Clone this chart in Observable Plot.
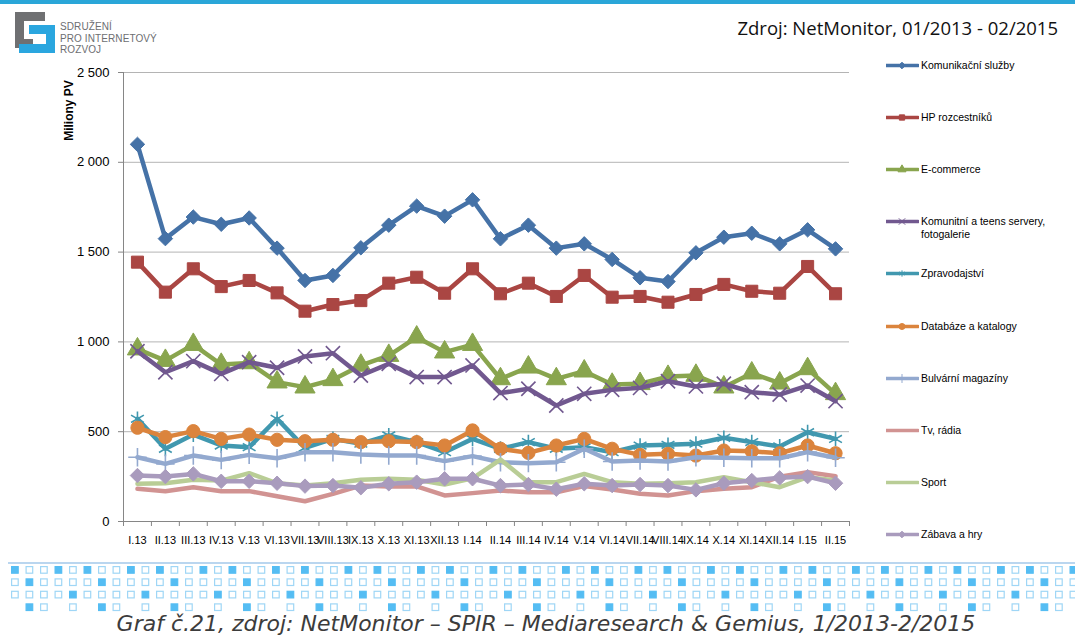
<!DOCTYPE html>
<html><head><meta charset="utf-8">
<script src="https://cdn.jsdelivr.net/npm/d3@7"></script>
<script src="https://cdn.jsdelivr.net/npm/@observablehq/plot@0.6"></script>
<style>
body{margin:0;background:#fff;}
#page{position:relative;width:1075px;height:636px;overflow:hidden;background:#fff;font-family:"Liberation Sans",Arial,sans-serif;}
#topbar{position:absolute;left:0;top:0;width:1075px;height:4px;background:#2aa6d8;}
#logo{position:absolute;left:0;top:0;}
#logotext{position:absolute;left:60px;top:21px;font-size:10px;line-height:11.5px;color:#6d6e71;letter-spacing:0.1px;}
#source{position:absolute;right:17px;top:15px;font-family:"Open Sans",sans-serif;font-size:18.5px;line-height:26px;color:#111;white-space:nowrap;}
#chart{position:absolute;left:0;top:0;}
#legend{position:absolute;left:0;top:0;width:1075px;}
.li{position:absolute;left:886px;display:flex;align-items:flex-start;font-size:10.5px;color:#000;line-height:13px;white-space:nowrap;}
.li svg{flex:none;}
.li span{margin-left:2px;}
#deco{position:absolute;left:0;top:0;}
#caption{position:absolute;left:0;width:1092px;top:613px;text-align:center;font-family:"DejaVu Sans",Verdana,sans-serif;font-style:italic;font-size:22px;line-height:22px;color:#3c3c3c;white-space:nowrap;}
</style></head><body>
<div id="page">
  <div id="topbar"></div>
  <svg id="logo" width="60" height="60">
    <path d="M15,12 H45 V21 H24 V39 H33 V48 H15 Z" fill="#6f7072"/>
    <path d="M29,25 H55 V53 H19 V44 H46 V34 H29 Z" fill="#2aa6df"/>
  </svg>
  <div id="logotext">SDRUŽENÍ<br>PRO INTERNETOVÝ<br>ROZVOJ</div>
  <div id="source">Zdroj: NetMonitor, 01/2013 - 02/2015</div>
  <div id="chart"></div>
  <div id="legend"></div>
  <svg id="deco" width="1075" height="636"></svg>
  <div id="caption">Graf č.21, zdroj: NetMonitor – SPIR – Mediaresearch &amp; Gemius, 1/2013-2/2015</div>
</div>
<script>
const months = ["I.13","II.13","III.13","IV.13","V.13","VI.13","VII.13","VIII.13","IX.13","X.13","XI.13","XII.13","I.14","II.14","III.14","IV.14","V.14","VI.14","VII.14","VIII.14","IX.14","X.14","XI.14","XII.14","I.15","II.15"];
const seriesNames = ["Komunikační služby","HP rozcestníků","E-commerce","Komunitní a teens servery, fotogalerie","Zpravodajství","Databáze a katalogy","Bulvární magazíny","Tv, rádia","Sport","Zábava a hry"];
const legendLabels = ["Komunikační služby","HP rozcestníků","E-commerce","Komunitní a teens servery,<br>fotogalerie","Zpravodajství","Databáze a katalogy","Bulvární magazíny","Tv, rádia","Sport","Zábava a hry"];
const komunikacni = [2100,1575,1695,1655,1690,1522,1342,1370,1524,1650,1756,1700,1791,1574,1650,1522,1546,1459,1357,1336,1496,1583,1605,1546,1624,1518];
const hpRozcestniku = [1444,1277,1407,1308,1342,1273,1171,1208,1230,1327,1360,1271,1407,1268,1327,1253,1370,1249,1253,1221,1264,1320,1282,1271,1420,1268];
const ecommerce = [960,896,985,874,883,776,748,789,869,924,1026,943,985,794,859,794,837,763,767,807,813,748,826,770,850,711];
const komunitni = [948,831,893,822,887,856,919,937,813,878,804,804,869,715,739,646,711,733,744,781,752,767,720,707,757,670];
const zpravodajstvi = [572,405,484,423,414,572,410,460,433,479,442,386,460,405,442,405,414,386,423,427,433,466,442,418,497,460];
const databaze = [522,470,503,460,484,455,447,455,442,447,442,423,507,405,382,423,460,405,371,377,367,395,391,380,423,380];
const bulvarni = [358,321,367,343,371,352,386,386,373,367,367,336,364,330,325,330,405,334,340,334,358,355,352,352,386,355];
const tvRadia = [182,169,191,169,169,141,113,154,200,195,195,145,158,172,163,163,197,178,154,145,169,182,191,250,275,252];
const sport = [210,213,232,228,269,213,200,213,232,238,232,206,240,345,219,219,265,219,210,213,219,247,219,191,247,228];
const zabava = [256,250,265,224,224,213,197,200,188,210,219,238,238,200,206,180,210,200,206,200,176,213,228,243,250,213];
const yTicks = [0,500,1000,1500,2000,2500];

const seriesValues = [komunikacni,hpRozcestniku,ecommerce,komunitni,zpravodajstvi,databaze,bulvarni,tvRadia,sport,zabava];
const seriesColors = ["#4572A7","#AA4643","#89A54E","#71588F","#4198AF","#DB843D","#93A9CF","#D19392","#B9CD96","#A99BBD"];
const seriesSymbols = ["diamond2","square","triangle","times","asterisk","circle","plus",null,null,"diamond2"];
const symbolR = {diamond2:6.5, square:6.8, triangle:7.5, times:6.5, asterisk:7, circle:6.6, plus:6};
const filledSymbols = new Set(["diamond2","square","triangle","circle"]);

const rows = seriesNames.flatMap((name, s) => seriesValues[s].map((v, i) => ({series: name, s, i, value: v})));

const marks = [
  Plot.gridY(yTicks, {stroke: "#b4b4b4", strokeOpacity: 1}),
  Plot.axisY(yTicks, {tickSize: 5, tickPadding: 9, stroke: "#868686", fill: "#000", fontSize: 13, label: null,
    tickFormat: d => d3.format(",")(d).replace(/,/g, "\u00a0")}),
  Plot.axisX(d3.range(months.length + 1).map(i => i - 0.5), {tickSize: 5, stroke: "#868686", tickFormat: () => "", label: null}),
  Plot.axisX(d3.range(months.length), {tickSize: 0, tickPadding: 15, fill: "#000", fontSize: 11, label: null, tickFormat: i => months[i]}),
  Plot.ruleX([-0.5], {stroke: "#868686"}),
  Plot.ruleY([0], {stroke: "#868686"}),
  Plot.text(["Miliony PV"], {frameAnchor: "top-left", textAnchor: "middle", dx: -59, dy: 38, rotate: -90, fontWeight: "bold", fontSize: 12, fill: "#000"})
];
seriesNames.forEach((name, s) => {
  const data = rows.filter(r => r.s === s);
  marks.push(Plot.line(data, {x: "i", y: "value", stroke: seriesColors[s], strokeWidth: 4.5, strokeLinejoin: "round", strokeLinecap: "round"}));
  const sym = seriesSymbols[s];
  if (sym) {
    const filled = filledSymbols.has(sym);
    marks.push(Plot.dot(data, {x: "i", y: "value", symbol: () => sym, r: symbolR[sym],
      fill: filled ? seriesColors[s] : "none", stroke: seriesColors[s], strokeWidth: filled ? 1 : 1.6}));
  }
});

const chart = Plot.plot({
  width: 1075, height: 560,
  marginTop: 72, marginBottom: 39, marginLeft: 123, marginRight: 226,
  x: {type: "linear", domain: [-0.5, months.length - 0.5]},
  y: {domain: [0, 2500]},
  style: {fontFamily: "Liberation Sans, Arial, sans-serif", background: "transparent", color: "#000"},
  marks
});
document.getElementById("chart").appendChild(chart);

// Legend
const symMap = {diamond2: d3.symbolDiamond2, square: d3.symbolSquare, triangle: d3.symbolTriangle, times: d3.symbolTimes, asterisk: d3.symbolAsterisk, circle: d3.symbolCircle, plus: d3.symbolPlus};
const legend = d3.select("#legend");
seriesNames.forEach((name, s) => {
  const cy = 65 + 52.2 * s;
  const item = legend.append("div").attr("class", "li").style("top", (cy - 6.5) + "px");
  const svg = item.append("svg").attr("width", 33).attr("height", 13);
  svg.append("line").attr("x1", 0).attr("x2", 32).attr("y1", 6.5).attr("y2", 6.5)
    .attr("stroke", seriesColors[s]).attr("stroke-width", 3.5).attr("stroke-linecap", "round");
  const sym = seriesSymbols[s];
  if (sym) {
    const filled = filledSymbols.has(sym);
    svg.append("path").attr("transform", "translate(16,6.5)")
      .attr("d", d3.symbol(symMap[sym], 28)())
      .attr("fill", filled ? seriesColors[s] : "none").attr("stroke", seriesColors[s]).attr("stroke-width", 1);
  }
  item.append("span").html(legendLabels[s]);
});

// Bottom decoration
const deco = d3.select("#deco");
deco.append("line").attr("x1", 8).attr("x2", 1075).attr("y1", 563).attr("y2", 563).attr("stroke", "#a3c9ea").attr("stroke-width", 1.5);
const rowTops = [566, 578.3, 590.7, 603.3];
const step = 14.5, sz = 7.8, x0 = 11;
for (let r = 0; r < 4; r++) {
  for (let k = 0; x0 + k * step < 1075; k++) {
    const m = k % 5;
    let kind = "o";
    if (r === 0) kind = (m === 0 || m === 3) ? "f" : "o";
    else if (r === 1) kind = m === 1 ? "f" : "o";
    else if (r === 2) kind = m === 4 ? "f" : "o";
    else kind = m === 1 ? "f" : (m === 2 || m === 4) ? "o" : null;
    if (!kind) continue;
    deco.append("rect").attr("x", x0 + k * step + 0.6).attr("y", rowTops[r] + 0.6).attr("width", sz - 1.2).attr("height", sz - 1.2)
      .attr("fill", kind === "f" ? "#55bdf3" : "#fff").attr("stroke", kind === "f" ? "#55bdf3" : "#9fd6f6").attr("stroke-width", 1.2);
  }
}
</script>
</body></html>
